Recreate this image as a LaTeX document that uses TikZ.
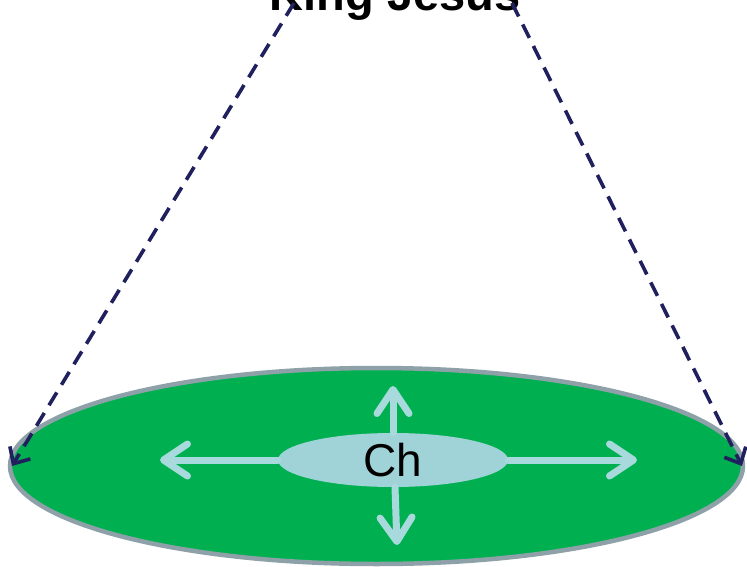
\documentclass[tikz,border=0pt]{standalone}
\usepackage{fontspec}
\setmainfont{Liberation Sans}
\usetikzlibrary{shapes.geometric,arrows.meta}
\definecolor{fieldgreen}{HTML}{00B050}
\definecolor{rimgray}{HTML}{8FA1A8}
\definecolor{chfill}{HTML}{A0D3D8}
\definecolor{armcol}{HTML}{A8D9DC}
\definecolor{navy}{HTML}{20205E}
\tikzset{
  field/.style={ellipse, fill=fieldgreen, draw=rimgray, line width=4.5pt, inner sep=0pt,
                minimum width=733pt, minimum height=196pt},
  chbox/.style={ellipse, fill=chfill, inner sep=0pt, minimum width=230pt, minimum height=54pt,
                font=\fontsize{46}{50}\selectfont},
  arm/.style={draw=armcol, line width=7pt, line cap=round,
              -{Straight Barb[length=24pt, width=32pt, line cap=round, line join=round]}},
  sight/.style={draw=navy, line width=3.6pt, dash pattern=on 15pt off 9pt,
                -{Straight Barb[length=13pt, width=24pt]}},
  title/.style={font=\bfseries\fontsize{47}{52}\selectfont, inner sep=0pt, anchor=base}
}
\begin{document}
\begin{tikzpicture}[x=1pt,y=-1pt]
  \useasboundingbox (0,0) rectangle (747,567);
  \clip (0,0) rectangle (747,567);
  \node[title] (king) at (395,11) {King Jesus};
  \node[field] (world) at (376.5,466) {};
  \node[chbox] (ch) at (393,460) {Ch};
  \coordinate (lt) at (160,460);
  \coordinate (rt) at (637,460);
  \coordinate (ut) at (393,386);
  \coordinate (dt) at (397,545);
  \draw[arm] (ch.west) -- (lt);
  \draw[arm] (ch.east) -- (rt);
  \draw[arm] (ch.north) -- (ut);
  \draw[arm] ([xshift=2pt]ch.south) -- (dt);
  \coordinate (kl) at (294,3);
  \coordinate (kr) at (512,3);
  \coordinate (wl) at (12,466);
  \coordinate (wr) at (742,466);
  \draw[sight] (kl) -- (wl);
  \draw[sight] (kr) -- (wr);
\end{tikzpicture}
\end{document}
